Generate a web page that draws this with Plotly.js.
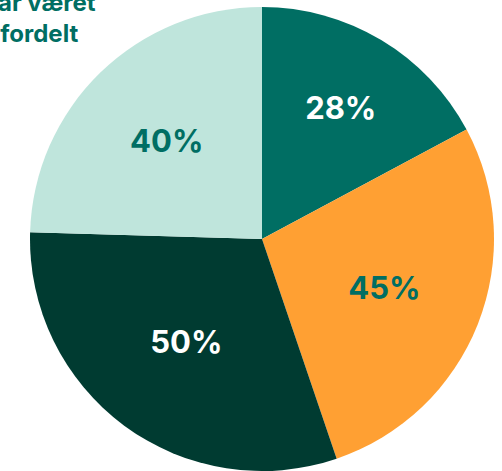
<!DOCTYPE html>
<html>
<head>
<meta charset="utf-8">
<script src="https://cdn.plot.ly/plotly-3.0.1.min.js"></script>
<style>html,body{margin:0;padding:0;background:#fff;}#chart{width:502px;height:471px;}</style>
</head>
<body>
<div id="chart"></div>
<script>
const labels = ["A", "B", "C", "D"];
const values = [28, 45, 50, 40];
const colors = ["#006e63", "#ffa033", "#003b31", "#bfe5dc"];
const textColors = ["#ffffff", "#006e63", "#ffffff", "#006e63"];
const titleText = "har været<br>fordelt";

const trace = {
  type: "pie",
  labels: labels,
  values: values,
  sort: false,
  direction: "clockwise",
  rotation: 0,
  marker: {colors: colors, line: {width: 0}},
  texttemplate: "%{value}%",
  textposition: "inside",
  insidetextorientation: "horizontal",
  insidetextfont: {family: "Inter, sans-serif", size: 31, weight: 700, color: textColors},
  hoverinfo: "none",
  showlegend: false
};

const layout = {
  width: 502,
  height: 471,
  margin: {l: 30, r: 8, t: 7, b: 0},
  paper_bgcolor: "#ffffff",
  showlegend: false,
  annotations: [{
    text: titleText,
    xref: "paper", yref: "paper",
    x: 0.0194, y: 1.0,
    xanchor: "center", yanchor: "bottom",
    yshift: -43,
    showarrow: false,
    align: "center",
    font: {family: "Inter, sans-serif", size: 24, weight: 700, color: "#006e63"}
  }]
};

Plotly.newPlot("chart", [trace], layout, {displayModeBar: false, staticPlot: true});
</script>
</body>
</html>
